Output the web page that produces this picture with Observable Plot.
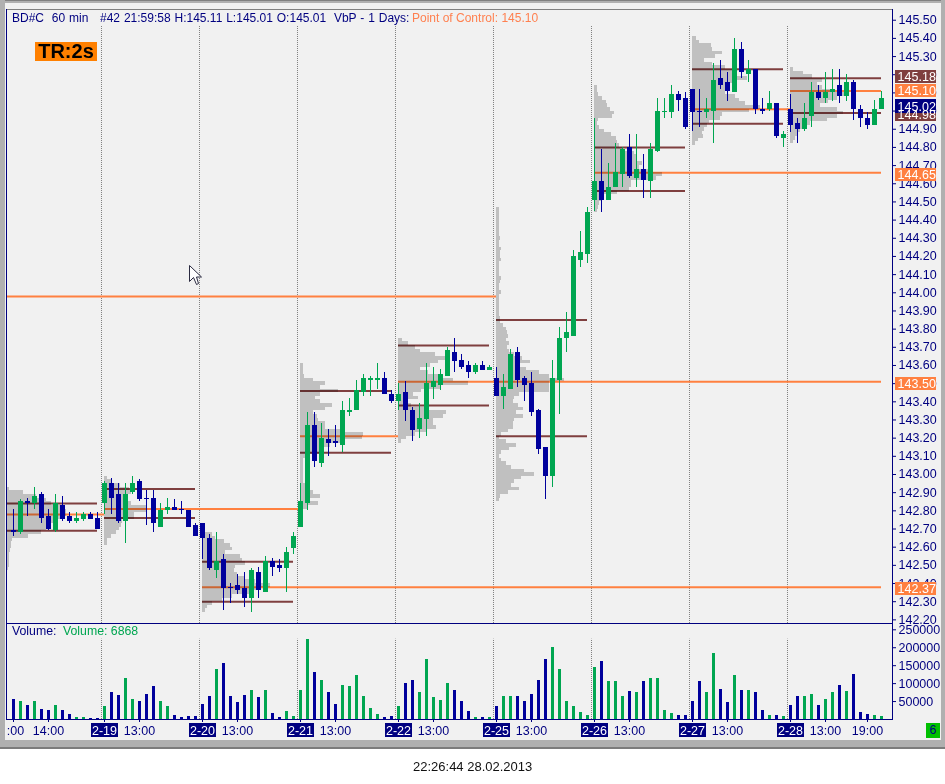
<!DOCTYPE html>
<html><head><meta charset="utf-8">
<script src="https://cdn.jsdelivr.net/npm/d3@7"></script>
<script src="https://cdn.jsdelivr.net/npm/@observablehq/plot@0.6"></script>
<style>
html,body{margin:0;padding:0;background:#fff}
#wrap{position:relative;width:945px;height:784px;overflow:hidden;background:#fff;font-family:"Liberation Sans",Arial,sans-serif;font-size:12.3px}
#outer{position:absolute;left:0;top:0;width:945px;height:747px;background:#b0b0b0;border-bottom:2px solid #7c7c7c}
#inner{position:absolute;left:5px;top:3px;width:936px;height:737px;background:#f1f1f1}
#topline{position:absolute;left:5px;top:0;width:936px;height:1px;background:#808080}
.plot{position:absolute;left:0}
.t{position:absolute;white-space:pre;line-height:14px}
</style></head><body>
<div id="wrap">
<div id="outer"></div><div id="inner"></div><div id="topline"></div>
<div id="p1" class="plot" style="top:0"></div>
<div id="p2" class="plot" style="top:624px"></div>
<div class="t" style="left:12px;top:11px;color:#000080;font-size:12px;word-spacing:0.55px">BD#C  60 min   #42 21:59:58 H:145.11 L:145.01 O:145.01  VbP - 1 Days:</div>
<div class="t" style="left:412px;top:11px;color:#ff8050;font-size:12px">Point of Control: 145.10</div>
<div class="t" style="left:35px;top:42px;width:62px;height:19px;line-height:19px;background:#ff8000;color:#000;font-weight:bold;font-size:20px;text-align:center">TR:2s</div>
<div class="t" style="left:12px;top:624px;color:#000080">Volume:</div>
<div class="t" style="left:63px;top:624px;color:#00a651">Volume: 6868</div>
<div class="t" style="left:926px;top:723px;width:14px;height:15px;line-height:15px;background:#00c000;color:#000080;text-align:center">6</div>
<div class="t" style="left:413px;top:760px;color:#111;font-size:13px">22:26:44 28.02.2013</div>
<svg style="position:absolute;left:187px;top:263px" width="18" height="24"><path d="M2.5 2.5V18.5L6.5 14.5L9.5 21.5L11.5 20.5L9.5 14L14.5 14Z" fill="#fff" stroke="#2a2a40" stroke-width="1"/></svg>
</div>
<script>
// one bar per hour; day sessions start at these bar numbers
const dayStart = [13,27,41,55,69,83,97,111];
const dayLabels = ["2-19","2-20","2-21","2-22","2-25","2-26","2-27","2-28"];
const hourTicks = [5,18,32,46,60,74,88,102,116,122];
const hourLabels = ["14:00","13:00","13:00","13:00","13:00","13:00","13:00","13:00","13:00","19:00"];
const priceTicks = [142.2,142.3,142.4,142.5,142.6,142.7,142.8,142.9,143,143.1,143.2,143.3,143.4,143.5,143.6,143.7,143.8,143.9,144,144.1,144.2,144.3,144.4,144.5,144.6,144.7,144.8,144.9,145,145.1,145.2,145.3,145.4,145.5];
const volumeTicks = [50000,100000,150000,200000,250000];

const opens = [
142.69,142.68,142.85,142.84,142.89,142.77,142.69,142.83,142.77,142.74,142.75,142.78,142.76,
142.84,142.95,142.89,142.74,142.90,142.96,142.87,142.87,142.71,142.80,142.82,142.81,142.80,142.72,
142.73,142.65,142.47,142.53,142.38,142.39,142.37,142.32,142.46,142.35,142.52,142.50,142.48,142.59,
142.71,142.84,143.27,143.06,143.19,143.18,143.16,143.34,143.35,143.45,143.52,143.52,143.53,143.44,
143.40,143.45,143.35,143.25,143.30,143.48,143.49,143.54,143.67,143.63,143.60,143.56,143.60,143.57,
143.53,143.43,143.47,143.67,143.53,143.50,143.35,143.15,142.99,143.52,143.75,143.76,144.18,144.21,
144.51,144.61,144.51,144.58,144.65,144.80,144.63,144.68,144.61,144.78,144.99,144.99,145.09,145.07,
145.12,145.00,144.99,145.00,145.18,145.16,145.10,145.34,145.20,145.23,145.01,145.01,145.04,144.85,
145.01,144.93,144.90,144.97,145.10,145.07,145.10,145.14,145.08,145.16,145.01,144.96,144.92,145.01];
const closes = [
142.68,142.85,142.84,142.88,142.76,142.70,142.84,142.75,142.74,142.76,142.78,142.75,142.70,
142.95,142.87,142.74,142.89,142.95,142.86,142.86,142.73,142.80,142.82,142.80,142.80,142.71,142.66,
142.65,142.48,142.52,142.37,142.37,142.36,142.32,142.47,142.36,142.52,142.49,142.48,142.57,142.66,
142.85,143.27,143.07,143.20,143.17,143.17,143.35,143.35,143.46,143.53,143.53,143.53,143.44,143.40,
143.44,143.35,143.24,143.31,143.50,143.51,143.55,143.68,143.62,143.59,143.56,143.60,143.57,143.59,
143.43,143.48,143.66,143.52,143.49,143.34,143.14,142.99,143.53,143.75,143.78,144.20,144.22,144.44,
144.61,144.51,144.58,144.66,144.79,144.64,144.68,144.62,144.79,145.00,145.00,145.09,145.06,144.91,
144.99,144.99,145.01,145.17,145.14,145.11,145.34,145.21,145.23,145.01,145.00,145.04,144.86,144.87,
144.92,144.90,144.96,145.10,145.07,145.10,145.12,145.08,145.16,145.01,144.96,144.92,145.01,145.07];
const highs = [
142.81,142.86,142.87,142.93,142.90,142.81,142.89,142.88,142.79,142.79,142.79,142.79,142.79,
142.96,142.98,142.95,142.95,142.99,142.97,142.91,142.91,142.84,142.87,142.86,142.85,142.80,142.73,
142.73,142.67,142.68,142.56,142.40,142.45,142.46,142.48,142.49,142.55,142.54,142.53,142.60,142.68,
142.95,143.34,143.34,143.28,143.25,143.27,143.40,143.42,143.52,143.55,143.54,143.61,143.56,143.46,
143.50,143.51,143.37,143.39,143.61,143.59,143.58,143.70,143.75,143.66,143.62,143.61,143.62,143.60,
143.59,143.55,143.69,143.70,143.54,143.56,143.36,143.15,143.63,143.81,143.89,144.23,144.34,144.47,
144.96,144.79,144.71,144.82,144.80,144.87,144.87,144.76,144.82,145.07,145.07,145.14,145.11,145.10,
145.12,145.12,145.07,145.26,145.28,145.21,145.40,145.38,145.28,145.23,145.07,145.11,145.04,144.89,
145.09,144.96,145.04,145.16,145.14,145.21,145.23,145.23,145.20,145.17,145.03,144.99,145.06,145.11];
const lows = [
142.66,142.67,142.77,142.81,142.73,142.69,142.68,142.74,142.73,142.73,142.74,142.75,142.70,
142.78,142.78,142.73,142.62,142.89,142.85,142.72,142.68,142.71,142.78,142.80,142.78,142.71,142.66,
142.53,142.47,142.43,142.25,142.29,142.34,142.27,142.24,142.32,142.35,142.44,142.46,142.35,142.56,
142.71,142.80,143.04,143.04,143.10,143.15,143.12,143.32,143.35,143.43,143.43,143.47,143.44,143.39,
143.35,143.29,143.18,143.20,143.21,143.41,143.46,143.54,143.56,143.58,143.53,143.55,143.57,143.57,
143.43,143.36,143.47,143.48,143.40,143.32,143.11,142.86,142.93,143.33,143.67,143.76,144.14,144.16,
144.45,144.44,144.51,144.58,144.58,144.63,144.58,144.52,144.52,144.77,144.96,144.96,145.00,144.90,
144.89,144.91,144.96,144.82,145.12,145.05,145.10,145.18,145.16,144.98,144.98,145.00,144.85,144.80,
144.88,144.82,144.89,144.91,145.06,145.04,145.05,145.04,145.05,144.95,144.91,144.90,144.92,145.01];
const volumes = [
57000,51500,40000,49000,29000,26000,40000,26000,15000,6500,6500,4000,4000,
35000,74000,68000,113000,57000,51500,71000,91000,49000,37000,12000,6500,9500,9500,
43000,65500,138500,155000,63000,46000,68000,82000,60000,80000,18000,6500,23500,9500,
80000,223000,130000,108000,74000,43000,96000,91000,122000,65500,32000,15000,6500,9500,
35000,99000,110000,74000,167000,60000,54000,99000,82000,51500,23500,6500,6500,6500,
37000,65500,63000,65500,49000,71000,108000,167000,200000,138500,49000,35000,20500,12000,
144000,161000,105000,105000,65500,77000,74000,105000,113000,113000,26000,18000,12000,12000,
51500,105000,74000,183500,85000,46000,122000,80000,80000,74000,26000,12000,12000,9500,
40000,65500,65500,71000,40000,57000,74000,94000,77000,124500,20500,15000,12000,9500];

// value area and point of control per session
const vaStart = [-1,13,27,41,55,69,83,97,111];
const vaHigh = [142.84,142.92,142.52,143.46,143.71,143.85,144.80,145.23,145.18];
const vaLow  = [142.69,142.76,142.30,143.12,143.38,143.21,144.56,144.93,144.99];
const pocPrice = [142.78,142.81,142.38,143.21,143.51,143.98,144.66,145.01,145.11];
const pocStart = [-1,13,27,41,55,-1,83,97,111];
const pocEnd   = [13,41,124,55,124,69,124,111,124];

// volume-by-price, top row down, one row per 0.02
const profileStart = [-1,13,27,41,55,69,83,97,111];
const profileTop = [142.93,142.99,142.68,143.61,143.75,144.47,145.14,145.41,145.24];
const profile0 = [3,17,30,40,45,55,60,60,55,50,45,40,35,22,6,5,5,4,3,3,3,3,2];
const profile1 = [3,8,16,25,27,24,22,27,43,43,30,30,18,17,15,12,7,3,3];
const profile2 = [10,13,22,28,30,23,38,40,43,33,32,35,43,53,68,57,47,30,20,10,5,3];
const profile3 = [3,3,3,4,13,25,20,38,20,15,20,32,25,13,17,18,25,25,40,63,62,43,30,20,20,5,3,3,3,3,3,3,3,10,8,13,20,10,18,7];
const profile4 = [4,10,17,22,37,47,40,32,22,30,40,55,70,43,23,15,20,10,13,30,48,45,35,35,38,28,17,8,3];
const profile5 = [3,3,3,3,3,3,3,3,4,3,3,5,4,4,5,3,3,3,3,5,4,3,3,5,3,3,3,3,3,3,4,4,7,10,11,12,10,13,11,13,18,26,34,22,30,43,53,68,53,53,53,23,18,17,22,27,20,27,18,17,17,12,5,3,10,20,13,5,3,5,10,15,28,38,25,18,15,23,12,4,3];
const profile6 = [3,3,4,8,12,13,16,20,18,4,3,5,10,17,22,23,25,28,40,43,43,48,45,57,68,62,37,37,35,23,10,8,5,4,3];
const profile7 = [4,7,19,20,30,23,12,20,33,40,42,55,40,37,35,33,43,47,53,68,57,30,28,17,15,12,10,11,6,3];
const profile8 = [3,13,22,32,27,32,42,57,47,38,30,47,53,47,37,20,17,10,7,5,3];
const profiles = [profile0,profile1,profile2,profile3,profile4,profile5,profile6,profile7,profile8];

// value labels on the price scale
const tagPrice = [144.98,145.19,145.11,145.025,144.65,143.50,142.37];
const tagText  = ["144.98","145.18","145.10","145.02","144.65","143.50","142.37"];
const tagColor = ["#7f3f3f","#7f3f3f","#ff8040","#000080","#ff8040","#ff8040","#ff8040"];

const BLUE="#00009c", GREEN="#00a651", NAVY="#000080", ORANGE="#ff8040", BROWN="#7f3f3f", BG="#f1f1f1";
const bars = opens.map((o,i)=>({i,o,c:closes[i],h:highs[i],l:lows[i],v:volumes[i],col:closes[i]>=o?GREEN:BLUE}));
const rows = profiles.flatMap((p,d)=>p.map((w,r)=>({x1:profileStart[d],x2:profileStart[d]+w/7,y1:profileTop[d]-r*0.02,y2:profileTop[d]-(r+1)*0.02})));
const va = vaStart.flatMap((s,d)=>{const e=s<0?12:s+13;return [{s,e,p:vaHigh[d]},{s,e,p:vaLow[d]}];});
const poc = pocPrice.map((p,d)=>({p,s:pocStart[d],e:pocEnd[d]}));
const tags = tagPrice.map((p,d)=>({p,t:tagText[d],c:tagColor[d]}));
const sep = dayStart.map(d=>d-0.43);
const xDomain=[-1,125.571];
const font={fontFamily:"'Liberation Sans',Arial,sans-serif",fontSize:"12.5px",background:"transparent",overflow:"visible"};

const priceChart = Plot.plot({
  width:945,height:624,marginLeft:6,marginRight:53,marginTop:9,marginBottom:1,style:font,
  x:{domain:xDomain,axis:null},
  y:{domain:[142.18,145.559],axis:null},
  marks:[
    Plot.frame({fill:BG}),
    Plot.ruleX(sep,{x:d=>d,y1:142.18,y2:145.47,stroke:"#808080",strokeDasharray:"1,1"}),
    Plot.ruleY(poc,{y:"p",x1:"s",x2:"e",stroke:ORANGE,strokeWidth:2}),
    Plot.ruleY(va,{y:"p",x1:"s",x2:"e",stroke:BROWN,strokeWidth:2}),
    Plot.rect(rows,{x1:"x1",x2:"x2",y1:"y1",y2:"y2",fill:"#cbcbcb",shapeRendering:"crispEdges",mixBlendMode:"multiply"}),
    Plot.ruleX(bars,{x:"i",y1:"l",y2:"h",stroke:"col",strokeWidth:1,shapeRendering:"crispEdges"}),
    Plot.ruleX(bars,{x:"i",y1:"o",y2:"c",stroke:"col",strokeWidth:5,shapeRendering:"crispEdges"}),
    Plot.frame({anchor:"top",stroke:"#808080"}),
    Plot.frame({anchor:"left",stroke:NAVY}),
    Plot.frame({anchor:"right",stroke:NAVY}),
    Plot.frame({anchor:"bottom",stroke:NAVY}),
    Plot.axisY({anchor:"right",label:null,ticks:priceTicks,tickFormat:d3.format(".2f"),tickSize:3,tickPadding:3,stroke:NAVY,fill:NAVY}),
    Plot.rect(tags,{x1:126,x2:131.85,y1:d=>d.p-0.036,y2:d=>d.p+0.036,fill:"c",shapeRendering:"crispEdges"}),
    Plot.text(tags,{x:126.3,y:"p",text:"t",fill:"#fff",textAnchor:"start"})
  ]
});
document.getElementById("p1").append(priceChart);

const hourMap=new Map(hourTicks.map((t,i)=>[t,hourLabels[i]]));
const dayMap=new Map(dayStart.map((t,i)=>[t,dayLabels[i]]));
const volumeChart = Plot.plot({
  width:945,height:124,marginLeft:6,marginRight:53,marginTop:0,marginBottom:29,style:font,
  x:{domain:xDomain,axis:null},
  y:{domain:[0,264800],axis:null},
  marks:[
    Plot.frame({fill:BG}),
    Plot.ruleX(sep,{x:d=>d,y1:0,y2:223800,stroke:"#808080",strokeDasharray:"1,1"}),
    Plot.ruleX(bars,{x:"i",y:"v",stroke:"col",strokeWidth:3,shapeRendering:"crispEdges"}),
    Plot.frame({anchor:"left",stroke:NAVY}),
    Plot.frame({anchor:"right",stroke:NAVY}),
    Plot.frame({anchor:"bottom",stroke:NAVY}),
    Plot.axisY({anchor:"right",label:null,ticks:volumeTicks,tickFormat:d=>String(d),tickSize:3,tickPadding:3,stroke:NAVY,fill:NAVY}),
    Plot.rect(dayStart,{x1:d=>d-1.82,x2:d=>d+1.98,y1:-12000,y2:-51000,fill:NAVY,shapeRendering:"crispEdges"}),
    Plot.axisX({label:null,ticks:[0,...hourTicks],tickFormat:d=>hourMap.get(d)??"",tickSize:3,tickPadding:4,stroke:NAVY,fill:NAVY}),
    Plot.axisX({label:null,ticks:dayStart,tickFormat:d=>dayMap.get(d),tickSize:3,tickPadding:4,stroke:NAVY,fill:"#fff"}),
    Plot.text([":00"],{x:0,y:-31000,dx:2,text:d=>d,fill:NAVY})
  ]
});
document.getElementById("p2").append(volumeChart);
</script>
</body></html>
